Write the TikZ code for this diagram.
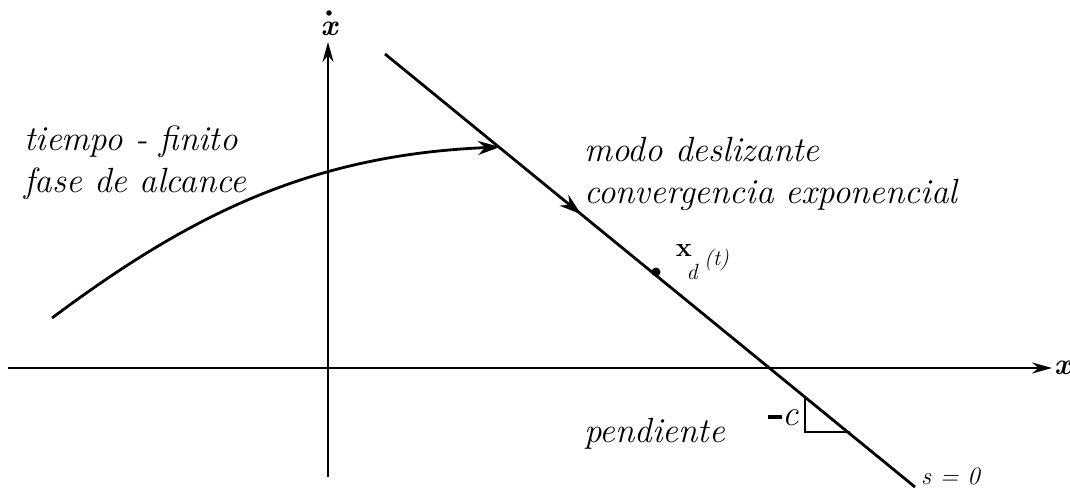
\documentclass[tikz,border=0pt]{standalone}
\usetikzlibrary{arrows.meta,decorations.markings}
\begin{document}
\begin{tikzpicture}[x=1pt,y=-1pt,
  axis/.style={line width=2.3pt,-{Stealth[length=20pt,width=11pt]}},
  thick line/.style={line width=2.8pt},
  lbl/.style={font=\fontsize{35}{42}\selectfont\itshape,inner sep=0pt},
  bx/.style={font=\fontsize{30}{32}\selectfont\bfseries\itshape,inner sep=0pt}]
\useasboundingbox (0,0) rectangle (1070,489);
% axes
\coordinate (xs) at (8,368);
\coordinate (xe) at (1052,368);
\coordinate (ys) at (328,477);
\coordinate (ye) at (328,42);
\draw[axis] (xs) -- (xe);
\draw[axis] (ys) -- (ye);
\node[bx,anchor=west] (xl) at (1054,368) {x};
\node[bx] (yl) at (329,29) {x};
\node[circle,fill,inner sep=0pt,minimum size=5.5pt] (yd) at (329,13) {};
% sliding line
\coordinate (ls) at (385,54);
\coordinate (hit) at (500,147);
\coordinate (le) at (915,487);
\draw[thick line,decoration={markings,mark=at position 0.37 with {\arrow{Stealth[length=22pt,width=14pt]}}},postaction={decorate}] (ls) -- (le);
% reaching curve
\coordinate (cs) at (52,318);
\draw[thick line,-{Stealth[length=22pt,width=14pt]}] (cs) .. controls (190,215) and (310,155) .. (hit);
% point
\node[circle,fill,inner sep=0pt,minimum size=9pt] (pd) at (656,272) {};
\node[inner sep=0pt,font=\fontsize{27}{28}\selectfont\bfseries] (pdx) at (684,251) {x};
\node[inner sep=0pt,font=\fontsize{22}{24}\selectfont\itshape] (pdd) at (692,272) {d};
\node[inner sep=0pt,font=\fontsize{22}{24}\selectfont\itshape,anchor=west] (pdt) at (704,260) {(t)};
% slope triangle
\coordinate (t1) at (805,397);
\coordinate (t2) at (805,432);
\coordinate (t3) at (850,432);
\draw[line width=1.4pt] (t1) -- (t2) -- (t3);
\node[inner sep=0pt,anchor=east,font=\fontsize{36}{38}\selectfont] (cl) at (799,418) {\rule[0.2em]{0.38em}{0.09em}\kern0.5pt\textit{c}};
% labels
\node[lbl,anchor=west] (p) at (584,434) {pendiente};
\node[inner sep=0pt,anchor=base west,font=\fontsize{25}{26}\selectfont\itshape] (s0) at (921,484) {s = 0};
\node[lbl,anchor=west,align=left] (m) at (584,174) {modo deslizante\\convergencia exponencial};
\node[lbl,anchor=west,align=left] (t) at (24,163) {tiempo - finito\\fase de alcance};
\end{tikzpicture}
\end{document}
